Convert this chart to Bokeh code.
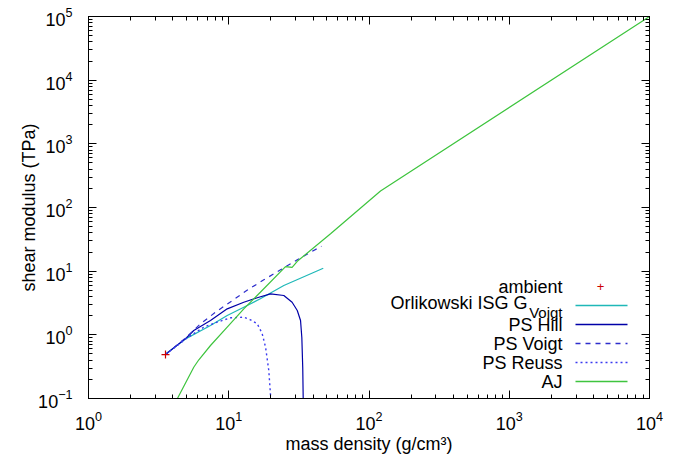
from bokeh.plotting import figure
from bokeh.models import (Range1d, LogAxis, LogTicker, Label, Arrow, CustomJSTickFormatter)
from bokeh.embed import file_html
from bokeh.resources import INLINE

# ---- data ----
ambient_rho = [3.54]
ambient_G = [0.49]

orl_rho = [3.54, 5.0, 7.41, 9.75, 12.8, 16.8, 24.7, 47.2]
orl_G = [0.50, 0.88, 1.40, 2.01, 2.72, 3.68, 5.95, 11.1]

hill_rho = [3.54, 5.0, 5.63, 7.41, 9.75, 12.8, 15.96, 19.85, 24.7, 28.3, 30.8, 32.5, 33.2, 33.7, 34.0]
hill_G = [0.49, 0.90, 1.17, 1.68, 2.56, 3.25, 3.82, 4.41, 4.15, 3.25, 2.41, 1.68, 0.9, 0.3, 0.08]

voigt_rho = [3.54, 5.0, 6.29, 8.05, 10.46, 13.67, 17.78, 23.4, 30.8, 45.8]
voigt_G = [0.49, 0.92, 1.49, 2.27, 3.38, 5.10, 7.31, 10.5, 15.1, 24.7]

reuss_rho = [3.54, 5.0, 6.64, 8.27, 10.3, 12.8, 14.3, 15.96, 17.3, 18.3, 19.3, 19.9, 20.1]
reuss_G = [0.49, 0.88, 1.32, 1.58, 1.85, 1.89, 1.72, 1.49, 1.05, 0.64, 0.275, 0.105, 0.08]

aj_rho = [4.2, 5.63, 6.12, 7.41, 9.75, 12.8, 16.8, 25.4, 28.3, 30.8, 53.2, 120.8, 10000]
aj_G = [0.09, 0.31, 0.406, 0.68, 1.32, 2.56, 4.67, 11.8, 11.5, 14.3, 38.6, 182, 100000]

legend_labels = ["ambient", "Orlikowski ISG G", "PS Hill", "PS Voigt", "PS Reuss", "AJ"]
legend_subscript = "Voigt"

FONT = "Liberation Sans"
FS = "18px"
C_AMB = "#cc0000"
C_ORL = "#1fb8b8"
C_HILL = "#0000a8"
C_VOIGT = "#2e2ecc"
C_REUSS = "#3a3af0"
C_AJ = "#3ec43e"

p = figure(width=689, height=462, x_axis_type="log", y_axis_type="log",
           x_range=Range1d(1, 1e4), y_range=Range1d(0.1, 1e5),
           output_backend="svg", toolbar_location=None,
           min_border_left=88, min_border_right=40, min_border_top=16, min_border_bottom=64)
p.background_fill_color = "white"
p.border_fill_color = "white"
p.outline_line_color = "black"
p.outline_line_width = 1
p.xgrid.visible = False
p.ygrid.visible = False

def style_axis(ax):
    ax.ticker = LogTicker(num_minor_ticks=10)
    ax.major_tick_in = 8
    ax.major_tick_out = 0
    ax.minor_tick_in = 4
    ax.minor_tick_out = 0
    ax.axis_line_color = "black"
    ax.major_tick_line_color = "black"
    ax.minor_tick_line_color = "black"
    ax.major_label_text_font = FONT
    ax.major_label_text_font_size = FS
    ax.major_label_text_color = "black"
    ax.axis_label_text_font = FONT
    ax.axis_label_text_font_size = FS
    ax.axis_label_text_font_style = "normal"
    ax.axis_label_text_color = "black"

style_axis(p.xaxis[0])
style_axis(p.yaxis[0])
p.xaxis[0].axis_label = "mass density (g/cm³)"
p.xaxis[0].major_label_standoff = 12
p.xaxis[0].axis_label_standoff = 1
p.yaxis[0].axis_label = "shear modulus (TPa)"
p.yaxis[0].major_label_standoff = 16
p.yaxis[0].axis_label_standoff = -4

blank = CustomJSTickFormatter(code="return ''")
top_ax = LogAxis(formatter=blank)
style_axis(top_ax)
top_ax.major_label_standoff = 0
p.add_layout(top_ax, "above")
right_ax = LogAxis(formatter=blank)
style_axis(right_ax)
right_ax.major_label_standoff = 0
p.add_layout(right_ax, "right")

# ---- curves ----
p.line(orl_rho, orl_G, line_color=C_ORL, line_width=1.2)
p.line(hill_rho, hill_G, line_color=C_HILL, line_width=1.2)
p.line(voigt_rho, voigt_G, line_color=C_VOIGT, line_width=1.2, line_dash="5 5")
p.line(reuss_rho, reuss_G, line_color=C_REUSS, line_width=1.4, line_dash="2 3")
p.line(aj_rho, aj_G, line_color=C_AJ, line_width=1.2)
p.scatter(ambient_rho, ambient_G, marker="cross", size=8, line_color=C_AMB, line_width=1.2)

# ---- screen-unit helpers (frame-relative, y up) ----
FRAME_LEFT = 88
FRAME_BOTTOM = 398

def sx(px):
    return px - FRAME_LEFT

def sy(py):
    return FRAME_BOTTOM - py

# ---- gnuplot-style legend (text right, sample right of it) ----
text_right = 562
row_y = [286, 305, 324, 343, 362, 381]
styles = [None, (C_ORL, None), (C_HILL, None), (C_VOIGT, "5 5"), (C_REUSS, "2 3"), (C_AJ, None)]

for i, lab in enumerate(legend_labels):
    ly = row_y[i]
    if i == 1:
        p.add_layout(Label(x=sx(527), y=sy(ly - 3), x_units="screen", y_units="screen",
                           text=lab, text_align="right", text_baseline="middle",
                           text_font=FONT, text_font_size=FS, text_color="black"))
        p.add_layout(Label(x=sx(text_right), y=sy(ly + 7), x_units="screen", y_units="screen",
                           text=legend_subscript, text_align="right", text_baseline="middle",
                           text_font=FONT, text_font_size="15px", text_color="black"))
    else:
        p.add_layout(Label(x=sx(text_right), y=sy(ly), x_units="screen", y_units="screen",
                           text=lab, text_align="right", text_baseline="middle",
                           text_font=FONT, text_font_size=FS, text_color="black"))
    if styles[i] is None:
        p.add_layout(Label(x=sx(600), y=sy(ly), x_units="screen", y_units="screen",
                           text="+", text_align="center", text_baseline="middle",
                           text_font=FONT, text_font_size="13px", text_color=C_AMB))
    else:
        col, dash = styles[i]
        p.add_layout(Arrow(end=None, x_start=sx(575), y_start=sy(ly),
                           x_end=sx(627), y_end=sy(ly),
                           start_units="screen", end_units="screen",
                           line_color=col, line_width=1.4,
                           line_dash=dash if dash else "solid"))

open("out.html", "w").write(file_html(p, INLINE))
